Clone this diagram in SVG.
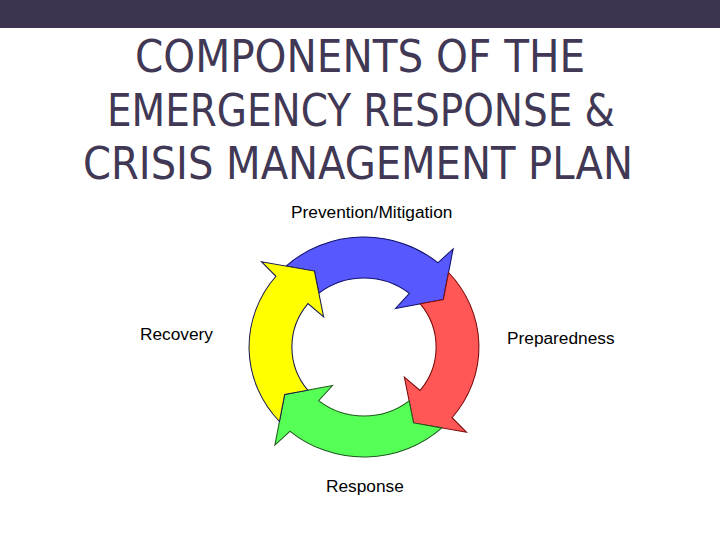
<svg xmlns="http://www.w3.org/2000/svg" width="720" height="540" viewBox="0 0 720 540">
  <defs>
    <style>
      .title { font-family: "DejaVu Sans Condensed", "DejaVu Sans", sans-serif; font-stretch: condensed; font-size: 45px; fill: #403854; text-anchor: middle; }
      .label { font-family: "Liberation Sans", Arial, sans-serif; font-size: 17.3px; fill: #000000; }
      .arrow { stroke-width: 1; stroke-linejoin: miter; }
    </style>
    <path id="ringArrow" d="M -74.51 -80.92 A 110 110 0 0 1 70.71 -84.26 L 85.29 -98.11 L 75.90 -47.43 L 30.17 -38.61 L 43.42 -53.62 A 69 69 0 0 0 -43.17 -53.83 L -47.43 -75.90 Z"/>
  </defs>
  <rect width="720" height="540" fill="#ffffff"/>
  <rect x="0" y="0" width="720" height="28" fill="#3d3450"/>
  <g id="title">
    <text class="title" x="360" y="72" textLength="450" lengthAdjust="spacingAndGlyphs">COMPONENTS OF THE</text>
    <text class="title" x="361" y="126" textLength="508" lengthAdjust="spacingAndGlyphs">EMERGENCY RESPONSE &amp;</text>
    <text class="title" x="358" y="179" textLength="550" lengthAdjust="spacingAndGlyphs">CRISIS MANAGEMENT PLAN</text>
  </g>
  <g id="connectors" transform="translate(364,347) scale(1.045,1)">
    <use id="arrow-blue" href="#ringArrow" class="arrow" fill="#5858ff" stroke="#10106a" transform="rotate(0)"/>
    <use id="arrow-red" href="#ringArrow" class="arrow" fill="#ff5656" stroke="#7a0a0a" transform="rotate(90)"/>
    <use id="arrow-green" href="#ringArrow" class="arrow" fill="#56ff56" stroke="#1f5a1f" transform="rotate(180)"/>
    <use id="arrow-yellow" href="#ringArrow" class="arrow" fill="#ffff00" stroke="#1a1a50" transform="rotate(270)"/>
  </g>
  <g id="node-prevention"><text class="label" x="291" y="218">Prevention/Mitigation</text></g>
  <g id="node-preparedness"><text class="label" x="507" y="344">Preparedness</text></g>
  <g id="node-response"><text class="label" x="326" y="492">Response</text></g>
  <g id="node-recovery"><text class="label" x="140" y="340">Recovery</text></g>
</svg>
